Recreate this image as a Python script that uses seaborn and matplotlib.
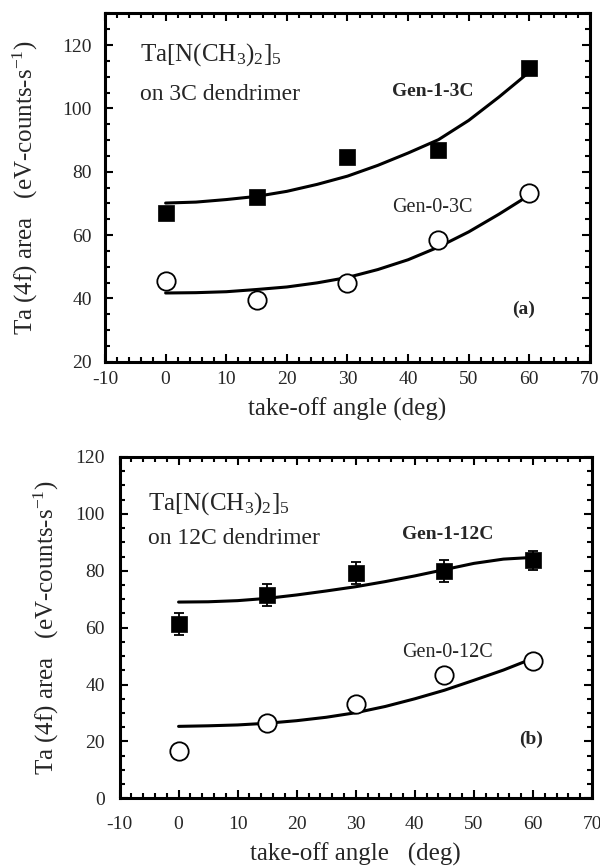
import numpy as np
import pandas as pd
import seaborn as sns
import matplotlib.ticker as mtick
from matplotlib import pyplot as plt

# measured points (take-off angle in deg, Ta 4f area)
angles = [0, 15, 30, 45, 60]
gen1_3c = [67.0, 72.0, 84.6, 86.9, 112.6]
gen0_3c = [45.4, 39.6, 44.7, 58.3, 73.3]
gen1_12c = [61.3, 71.5, 79.1, 79.9, 83.7]
gen1_12c_err = [4.0, 3.8, 3.9, 4.0, 3.4]
gen0_12c = [16.5, 26.4, 33.0, 43.5, 48.3]

# fitted curves
fit_angles = [0, 5, 10, 15, 20, 25, 30, 35, 40, 45, 50, 55, 60]
fit_gen1_3c = [70.1, 70.4, 71.2, 72.2, 73.8, 76.0, 78.6, 82.0, 85.9, 90.1, 96.2, 103.6, 111.5]
fit_gen0_3c = [41.7, 41.8, 42.1, 42.8, 43.6, 44.9, 46.6, 49.1, 52.2, 56.2, 61.0, 66.6, 72.6]
fit_gen1_12c = [69.0, 69.1, 69.5, 70.3, 71.5, 72.9, 74.4, 76.2, 78.2, 80.4, 82.6, 84.1, 84.7]
fit_gen0_12c = [25.3, 25.5, 25.8, 26.4, 27.3, 28.5, 30.1, 32.3, 35.0, 38.0, 41.5, 45.1, 49.2]

sns.set_style('ticks')
plt.rcParams['font.family'] = ['Liberation Serif', 'DejaVu Serif']
plt.rcParams['mathtext.fontset'] = 'custom'
plt.rcParams['mathtext.rm'] = 'Liberation Serif'
plt.rcParams['mathtext.it'] = 'Liberation Serif:italic'
plt.rcParams['mathtext.bf'] = 'Liberation Serif:bold'
plt.rcParams['axes.unicode_minus'] = False

TICK_FS = 14
LABEL_FS = 18


def style_axes(ax, ylim, xlabel, ylabel_x, xlabel_y, xpad, ypad):
    ax.set_xlim(-10, 70)
    ax.set_ylim(*ylim)
    ax.xaxis.set_major_locator(mtick.MultipleLocator(10))
    ax.xaxis.set_minor_locator(mtick.MultipleLocator(2))
    ax.yaxis.set_major_locator(mtick.MultipleLocator(20))
    ax.yaxis.set_minor_locator(mtick.MultipleLocator(5))
    ax.tick_params(which='both', direction='in', top=True, right=True,
                   width=1.5, labelsize=TICK_FS, color='black')
    ax.tick_params(axis='x', which='both', pad=xpad)
    ax.tick_params(axis='y', which='both', pad=ypad)
    ax.tick_params(which='major', length=6)
    ax.tick_params(which='minor', length=3.5)
    for s in ax.spines.values():
        s.set_linewidth(2.2)
        s.set_color('black')
    ax.set_xlabel(xlabel, fontsize=LABEL_FS)
    ax.set_ylabel(r'Ta (4f) area   (eV-counts-s$^{-1}$)', fontsize=LABEL_FS)
    ax.yaxis.set_label_coords(ylabel_x, 0.5)
    ax.xaxis.set_label_coords(0.5, xlabel_y)


def draw_panel(ax, fit_top, fit_bot, top, bot, err=None):
    sns.lineplot(x=fit_angles, y=fit_top, ax=ax, color='black', lw=2.2, sort=False, zorder=2)
    sns.lineplot(x=fit_angles, y=fit_bot, ax=ax, color='black', lw=2.2, sort=False, zorder=2)
    if err is not None:
        ax.errorbar(angles, top, yerr=err, fmt='none', ecolor='black',
                    elinewidth=1.3, capsize=3.5, capthick=1.3, zorder=3)
    sns.scatterplot(x=angles, y=top, ax=ax, marker='s', s=140, color='black',
                    edgecolor='black', linewidth=0.5, zorder=4)
    sns.scatterplot(x=angles, y=bot, ax=ax, marker='o', s=175, facecolor='white',
                    edgecolor='black', linewidth=1.3, zorder=4)


fig = plt.figure(figsize=(6.0, 8.67), dpi=100)

# panel (a)
ax1 = fig.add_axes([0.175, 0.5828, 0.8083, 0.4018])
draw_panel(ax1, fit_gen1_3c, fit_gen0_3c, gen1_3c, gen0_3c)
style_axes(ax1, (20, 130), 'take-off angle (deg)', -0.134, -0.103, xpad=7, ypad=9.5)
ax1.text(-4.2, 117.0, r'Ta[N(CH$_3$)$_2$]$_5$', fontsize=18, va='center', ha='left')
ax1.text(-4.2, 104.5, 'on 3C dendrimer', fontsize=17, va='center', ha='left')
ax1.text(37.4, 105.2, 'Gen-1-3C', fontsize=14, fontweight='bold', va='center', ha='left')
ax1.text(37.4, 68.8, 'Gen-0-3C', fontsize=14.5, va='center', ha='left')
ax1.text(57.1, 36.4, '(a)', fontsize=14, fontweight='bold', va='center', ha='left')

# panel (b)
ax2 = fig.add_axes([0.1992, 0.0792, 0.7875, 0.3937])
draw_panel(ax2, fit_gen1_12c, fit_gen0_12c, gen1_12c, gen0_12c, err=gen1_12c_err)
style_axes(ax2, (0, 120), 'take-off angle   (deg)', -0.123, -0.131, xpad=12.5, ypad=10.5)
ax2.text(-5.2, 103.5, r'Ta[N(CH$_3$)$_2$]$_5$', fontsize=18, va='center', ha='left')
ax2.text(-5.2, 91.5, 'on 12C dendrimer', fontsize=17, va='center', ha='left')
ax2.text(37.8, 92.9, 'Gen-1-12C', fontsize=14, fontweight='bold', va='center', ha='left')
ax2.text(37.8, 51.2, 'Gen-0-12C', fontsize=14.5, va='center', ha='left')
ax2.text(57.6, 20.7, '(b)', fontsize=14, fontweight='bold', va='center', ha='left')

fig.savefig('out.png', dpi=100)
